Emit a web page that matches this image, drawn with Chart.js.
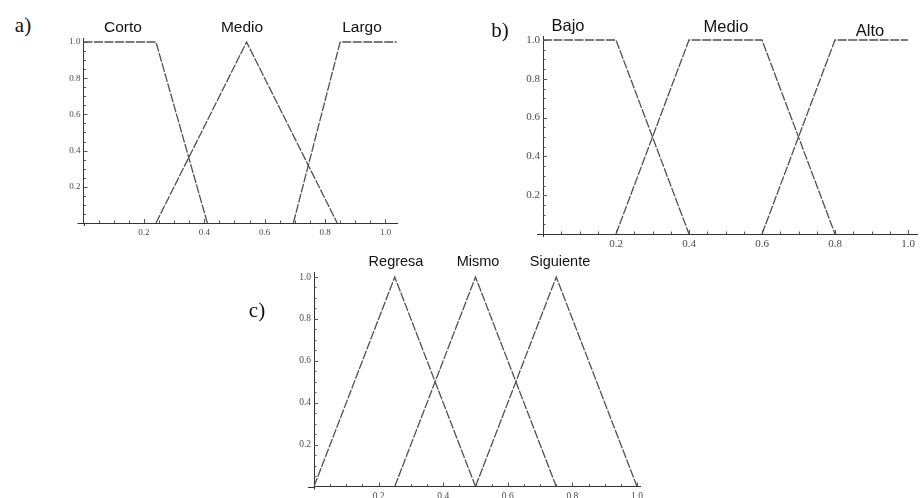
<!DOCTYPE html>
<html><head><meta charset="utf-8">
<script src="https://cdn.jsdelivr.net/npm/chart.js@4"></script>
<style>
html,body{margin:0;padding:0;background:#fff;overflow:hidden;width:924px;height:498px;position:relative;}
canvas{position:absolute;}
.t{position:absolute;transform:translate(-50%,-50%);font-family:"Liberation Sans",Arial,sans-serif;color:#111;white-space:nowrap;line-height:1;}
.p{position:absolute;transform:translate(-50%,-50%);font-family:"Liberation Serif","Times New Roman",serif;color:#111;font-size:21px;line-height:1;}
</style></head><body>
<canvas id="ca"></canvas><canvas id="cb"></canvas><canvas id="cc"></canvas>
<script>
// ---- data ----
const tickLabels = ['0.2','0.4','0.6','0.8','1.0'];

const aNames = ['Corto','Medio','Largo'];
const aCorto = [[0,1],[0.24,1],[0.41,0]];
const aMedio = [[0.24,0],[0.54,1],[0.84,0]];
const aLargo = [[0.695,0],[0.85,1],[1.037,1]];

const bNames = ['Bajo','Medio','Alto'];
const bBajo  = [[0,1],[0.2,1],[0.4,0]];
const bMedio = [[0.2,0],[0.4,1],[0.6,1],[0.8,0]];
const bAlto  = [[0.6,0],[0.8,1],[1.0,1]];

const cNames = ['Regresa','Mismo','Siguiente'];
const cRegresa   = [[0,0],[0.25,1],[0.5,0]];
const cMismo     = [[0.25,0],[0.5,1],[0.75,0]];
const cSiguiente = [[0.5,0],[0.75,1],[1.0,0]];

// ---- helpers ----
function isMajor(v){ return Math.abs(v*5 - Math.round(v*5)) < 1e-9; }
function tickText(v){ const f = tickLabels.find(l => Math.abs(parseFloat(l)-v) < 1e-9); return f || ''; }

const innerTicks = {
  id:'innerTicks',
  afterDatasetsDraw(chart){
    const ctx = chart.ctx, a = chart.chartArea, xs = chart.scales.x, ys = chart.scales.y;
    ctx.save(); ctx.strokeStyle = '#555'; ctx.lineWidth = 1;
    ctx.beginPath();
    xs.ticks.forEach(t => {
      if (t.value <= 0) return;
      const px = Math.round(xs.getPixelForValue(t.value)) + 0.5;
      const L = isMajor(t.value) ? 4 : 2.5;
      ctx.moveTo(px, a.bottom); ctx.lineTo(px, a.bottom - L);
    });
    ys.ticks.forEach(t => {
      if (t.value <= 0) return;
      const py = Math.round(ys.getPixelForValue(t.value)) + 0.5;
      const L = isMajor(t.value) ? 4 : 2.5;
      ctx.moveTo(a.left, py); ctx.lineTo(a.left + L, py);
    });
    ctx.stroke();
    // axis stubs crossing at the origin
    ctx.strokeStyle = '#333';
    ctx.beginPath();
    const by = Math.round(a.bottom) + 0.5, lx = Math.round(a.left) + 0.5;
    ctx.moveTo(a.left - 6, by); ctx.lineTo(a.left, by);
    ctx.moveTo(lx, a.bottom); ctx.lineTo(lx, a.bottom + 3);
    ctx.stroke();
    ctx.restore();
  }
};

function ds(points){
  return { data: points.map(p => ({x:p[0], y:p[1]})), borderColor:'#505050', borderWidth:1.3,
    borderDash:[9,1.5], pointRadius:0, fill:false, tension:0, clip:false };
}

function makePanel(id, area, xmax, ymax, series, fontSize){
  const left = area.x0, bottom = area.y0;
  const right = area.x0 + area.ux * xmax;
  const top = area.y0 - area.uy * ymax;
  const box = { l: Math.floor(left - 50), t: Math.floor(top - 14), r: Math.ceil(right + 14), b: Math.ceil(bottom + 24) };
  const cv = document.getElementById(id);
  cv.width = box.r - box.l; cv.height = box.b - box.t;
  cv.style.left = box.l + 'px'; cv.style.top = box.t + 'px';
  cv.style.width = cv.width + 'px'; cv.style.height = cv.height + 'px';
  const yW = left - box.l, xH = box.b - bottom;
  const tickFont = { family:'"Liberation Serif","Times New Roman",serif', size:fontSize };
  new Chart(cv, {
    type:'line',
    data:{ datasets: series.map(ds) },
    options:{
      responsive:false, animation:false, devicePixelRatio:1,
      layout:{ padding:{ left:0, top: top - box.t, right: box.r - right, bottom:0 } },
      plugins:{ legend:{display:false}, tooltip:{enabled:false}, title:{display:false} },
      scales:{
        x:{ type:'linear', min:0, max:xmax,
          afterFit(s){ s.height = xH; },
          grid:{ display:false, drawTicks:false },
          border:{ display:true, color:'#333', width:1 },
          ticks:{ stepSize:0.05, includeBounds:false, autoSkip:false, maxRotation:0, padding:4,
            color:'#4a4a4a', font:tickFont, callback:(v) => tickText(v) } },
        y:{ type:'linear', min:0, max:ymax,
          afterFit(s){ s.width = yW; },
          grid:{ display:false, drawTicks:false },
          border:{ display:true, color:'#333', width:1 },
          ticks:{ stepSize:0.05, includeBounds:false, autoSkip:false, padding:3,
            color:'#4a4a4a', font:tickFont, callback:(v) => tickText(v) } }
      }
    },
    plugins:[innerTicks]
  });
}

makePanel('ca', {x0:83.5, y0:223, ux:302, uy:181}, 1.04, 1.02, [aCorto, aMedio, aLargo], 9);
makePanel('cb', {x0:543, y0:234, ux:365, uy:194}, 1.025, 1.02, [bBajo, bMedio, bAlto], 11);
makePanel('cc', {x0:314, y0:486.5, ux:323, uy:209.5}, 1.01, 1.02, [cRegresa, cMismo, cSiguiente], 9.5);

// ---- text labels ----
function label(cls, txt, x, y, size){
  const d = document.createElement('div'); d.className = cls; d.textContent = txt;
  d.style.left = x + 'px'; d.style.top = y + 'px'; if (size) d.style.fontSize = size + 'px';
  document.body.appendChild(d);
}
label('p','a)',23,25); label('p','b)',500,30); label('p','c)',257,310);
const aPos = [[123,27],[242,27],[362,27]];
const bPos = [[568,25],[726,26],[870,30]];
const cPos = [[396,261],[478,261],[560,261]];
aNames.forEach((n,i) => label('t', n, aPos[i][0], aPos[i][1], 15.5));
bNames.forEach((n,i) => label('t', n, bPos[i][0], bPos[i][1], 16.5));
cNames.forEach((n,i) => label('t', n, cPos[i][0], cPos[i][1], 14.5));
</script>
</body></html>
